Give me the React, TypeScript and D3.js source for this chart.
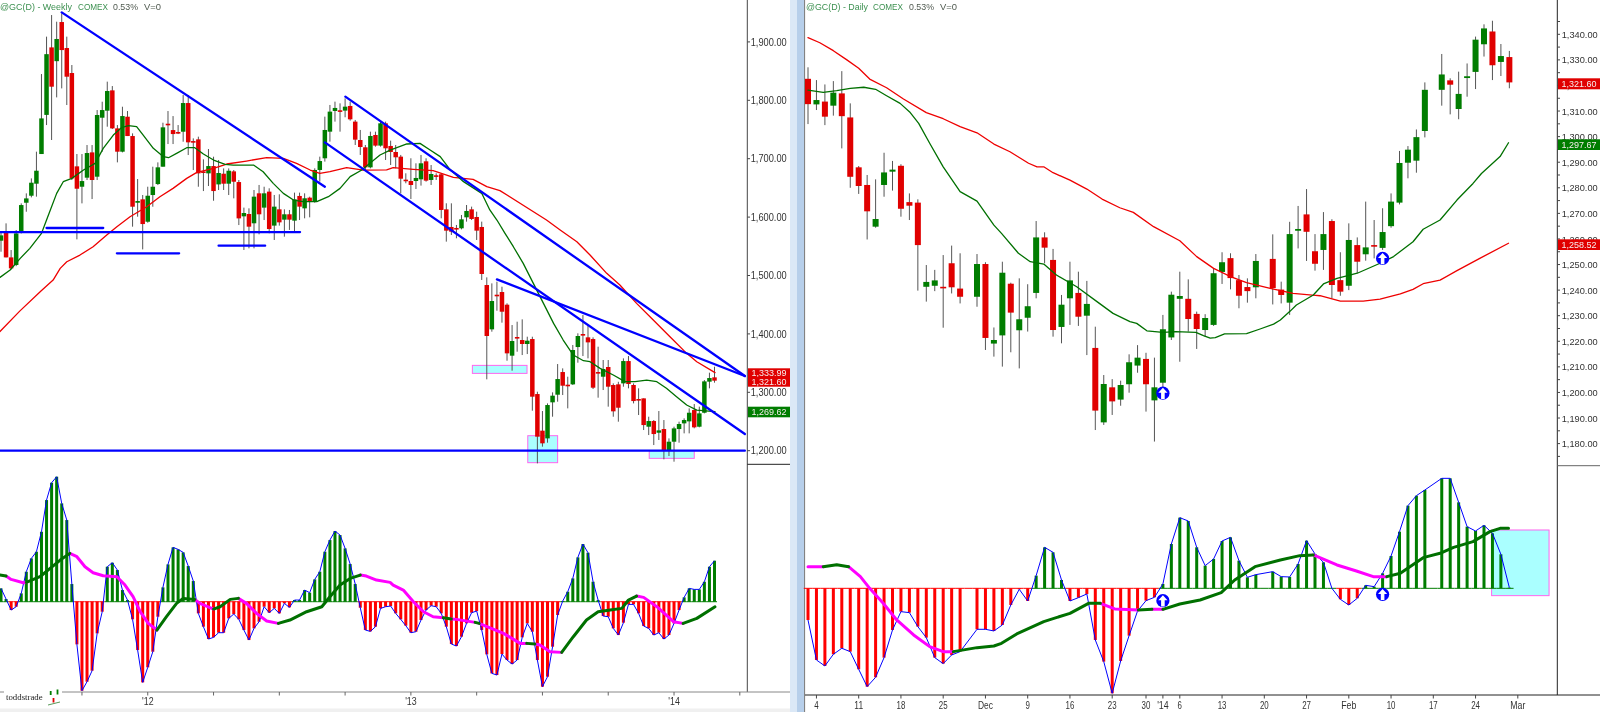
import React from "react";
import * as d3 from "d3";

type N = number | null;
type P = [number, number];

// ---------- Weekly OHLC (@GC) ----------
const weeklyOpen: N[] = [
  1559.6,1573.8,1531,1518,1575,1624.6,1636.6,1657.2,1708,1775,
  1890.6,1867,1934,1889.5,1846.7,1686.9,1652,1667.5,1710.8,1669.2,
  1770.2,1782.2,1817,1751.9,1712,1771.9,1738.8,1624.6,1630.4,1592.1,
  1637.8,1656.6,1686.3,1759.9,1749,1745.7,1746.2,1795.3,1730.2,1733.1,
  1678.3,1674.9,1687.4,1656,1674.3,1657.2,1678.3,1660,1601.3,1605.3,
  1589.4,1640.7,1616.2,1643.6,1585.4,1613.3,1595.6,1604.8,1593.9,1636.2,
  1615,1633.3,1626.5,1680.7,1700.7,1746.3,1781.7,1782.9,1782.3,1790.3,
  1763.5,1732,1719.5,1685.2,1740.6,1722.4,1760.6,1721.8,1711.5,1703.5,
  1664.1,1661.8,1661.8,1664.7,1695.5,1663.6,1671.6,1673.3,1613.3,1583.1,
  1581.4,1580.8,1599.6,1613.3,1600.2,1583.1,1483.7,1407.8,1467.1,1471.7,
  1450,1362.7,1394.7,1389.5,1382.7,1391.2,1297,1234.3,1221.1,1282.8,
  1295.9,1334.7,1313,1313.6,1377.5,1399.8,1394.1,1391.2,1334.7,1326.7,
  1343.3,1312.5,1313.6,1315.3,1353.5,1312.5,1288.5,1289.6,1241.1,1250.8,
  1230.8,1237.1,1200,1215.4,1237.1,1246.8,1250.2,1269.6,1241.1,1265,
  1318.2,1325.6,
];
const weeklyClose: N[] = [
  1568.7,1531,1512.2,1572.1,1620.6,1632,1658.9,1679.4,1769,1879,
  1823.3,1905,1886,1840.4,1666.3,1648.6,1661.7,1709.7,1663.5,1774.8,
  1783.3,1815.9,1751.9,1712,1773,1738.8,1617.8,1627.5,1588.1,1636.6,
  1652,1685.2,1753.7,1758.2,1742.2,1744,1795.3,1728,1728.5,1674.9,
  1676.6,1687.4,1644.6,1675.5,1657.2,1679.4,1660.6,1597.8,1607,1583.6,
  1635,1604.8,1640.7,1579.6,1617.9,1591,1604.8,1595.6,1630.4,1617.9,
  1632.2,1626.5,1680.7,1696,1749.2,1780.6,1786.9,1781.1,1789.1,1767.4,
  1732.6,1720,1685.2,1738.9,1722.4,1760.6,1717.8,1711.5,1702.4,1665.8,
  1662.4,1655,1667,1692.1,1662.4,1673.8,1669.8,1612.2,1576.8,1575,
  1579.7,1596.2,1610.5,1596.8,1576.8,1502.6,1396.4,1456.3,1465.4,1438,
  1366.7,1387.8,1393,1382.7,1388.4,1292.5,1224,1212.6,1278.2,1294.2,
  1322.7,1311.3,1311.3,1372.4,1396.4,1397.5,1385.5,1307.9,1333,1339.9,
  1309.6,1267.4,1273.6,1353.5,1314.2,1285,1286.8,1243.9,1250.8,1228.5,
  1234.8,1200,1215.4,1238.2,1245.7,1252.5,1265,1240,1263.9,1318.7,
  1324.4,1319.9,
];
const weeklyHigh: N[] = [
  1575,1589.3,1543.6,1577.8,1623.5,1640.6,1666.3,1712,1845,1909,
  1946,1934.6,1949,1909,1860.4,1708,1708,1723.4,1723.4,1783.3,
  1797.6,1831.9,1824.4,1757.6,1789,1781.6,1743.4,1665.2,1637.8,1652,
  1686.3,1693.7,1761.6,1781.6,1773,1757.6,1809,1809,1734.8,1737.7,
  1698.9,1716.6,1703.4,1697.7,1683.4,1683.4,1680.6,1663.5,1616.2,1615,
  1646.4,1655,1652,1649.3,1637.9,1639,1613.3,1612.2,1641.9,1641.9,
  1640.7,1635,1683.5,1703.5,1772,1792,1797.7,1794.8,1803.4,1797.7,
  1766.3,1749.2,1723.5,1746.3,1746.3,1763.5,1763.5,1730.9,1723.5,1706.4,
  1675,1700.7,1692.1,1706.4,1700.7,1689.2,1675,1675,1623.6,1623.6,
  1586.5,1603.6,1620.7,1617.9,1609.3,1592.2,1496.8,1486.5,1489.4,1480.8,
  1452.3,1415.2,1420.9,1424.9,1395.2,1395.2,1301,1267.9,1281,1299.9,
  1348.4,1341,1326.7,1381,1401,1432.3,1415.2,1394.1,1378.1,1355.3,
  1355.3,1315.3,1318,1358.1,1362.1,1315.3,1306.8,1289.6,1258.2,1252.5,
  1267.9,1252.5,1221.1,1241.1,1249.7,1255.4,1272.5,1279.9,1275.4,1321,
  1333.6,1343.8,
];
const weeklyLow: N[] = [
  1540.7,1531,1510.5,1516,1572,1609.2,1633.8,1635,1708,1757.6,
  1732,1805,1820.4,1791.9,1663.5,1561.9,1623.5,1663.5,1630.9,1663.5,
  1712,1754.8,1750.8,1693.7,1710.8,1738.8,1583.6,1600.7,1544.7,1590.4,
  1617.8,1654.9,1686.3,1725.1,1725.1,1742.2,1729.1,1706.3,1680.6,1652,
  1644.6,1653.2,1628,1646.4,1646.4,1637.8,1632.1,1586.4,1543.7,1546.5,
  1546.5,1570.5,1595,1572.2,1560.8,1585.4,1566.5,1578,1575,1595,
  1597.9,1599.6,1624.7,1660.7,1695,1729.2,1763.5,1746.3,1770.9,1765.2,
  1723.5,1706.4,1680.7,1683.5,1720.6,1720.6,1697.8,1689.2,1683.5,1640.7,
  1657.9,1631,1648.1,1653.9,1660.7,1655,1663.6,1597.9,1558,1569.4,
  1563.7,1579,1592.2,1595,1560.8,1492.3,1322.2,1403.8,1439.7,1419.2,
  1354.1,1337,1369.5,1363.8,1365.5,1268.5,1178.3,1206.9,1213.7,1258.2,
  1283.9,1295.3,1272.5,1312.5,1350.7,1362.1,1358.1,1305.6,1290.8,1303.9,
  1275.4,1258.2,1249.7,1309.6,1306.8,1281,1261.1,1235.4,1226.8,1209.7,
  1218.3,1185.2,1190.9,1181.2,1213.7,1229.7,1229.7,1238.3,1240,1263.9,
  1306.8,1316.5,
];

// ---------- Weekly moving averages [bar, price] ----------
const weeklyFastMA: P[] = [
  [-0.2,1496.8],[1.8,1509.4],[3.8,1529.3],[5.7,1546.5],[8,1572.1],[9,1595],[11,1640.6],[12.3,1660.6],[14,1666.3],
  [16.3,1680.6],[18.6,1692],[20.2,1717.7],[22.2,1740.5],[23.8,1753],[25.2,1756.5],[26.8,1754.8],[28.1,1740.5],
  [30.1,1717.7],[32.1,1703.4],[33.1,1701.7],[34.7,1709.1],[36.7,1718.8],[38.3,1718.8],[40,1708],[42,1697.7],
  [44.3,1690.3],[45.9,1689.1],[49.9,1689.1],[51.8,1677.7],[53.8,1657.8],[55.8,1640.6],[57.8,1629.2],[59.7,1626.4],
  [62.4,1626.4],[64.7,1634.9],[67,1649.2],[69,1669.2],[71.3,1680.6],[72.9,1692],[74.9,1706.3],[76.9,1714.8],
  [80.2,1725.2],[82.8,1726.3],[84.8,1714.9],[86.8,1703.5],[88.7,1681.8],[91.4,1660.7],[95,1640.7],[96.6,1612.2],
  [98,1595],[99.6,1572.2],[101.25,1549.3],[103.2,1520.8],[105.2,1486.5],[107.2,1452.3],[109.2,1418],[111.1,1389.5],
  [113.1,1363.8],[115.1,1354.1],[116.4,1352.4],[118.4,1341],[121,1329.6],[123.3,1318.2],[125.3,1318.2],[127.6,1321],
  [129.6,1318.2],[131.5,1306.8],[133.5,1292.5],[135.5,1278.2],[137.5,1269.6],[141.1,1266.8],
];
const weeklySlowMA: P[] = [
  [-0.2,1404],[3.7,1439],[7.9,1473.5],[10.3,1492.2],[11.7,1512.2],[13,1523.6],[15.6,1535],[18.2,1549.3],[20.9,1569.3],[22.9,1583.6],[25.5,1600.7],
  [28.8,1617.8],[31.4,1634.9],[34,1649.2],[36.7,1666.3],[38.7,1676.6],[42,1683.4],[44.6,1690.9],[48.5,1696],
  [52.5,1701.7],[55.8,1700.6],[58.4,1692],[61.1,1680.6],[63,1674.9],[65,1677.7],[68.3,1684.6],[71.6,1680.6],
  [76.2,1680.7],[77.5,1684.7],[81.5,1681.8],[85.4,1679.5],[89.4,1668.1],[93.3,1664.7],[96,1652.1],[98.6,1645.3],
  [107.8,1595],[110.5,1577.9],[113.8,1557.9],[116.4,1535],[119.7,1503.7],[122.3,1483.7],[125.6,1452.3],[128.9,1423.8],
  [132.2,1395.2],[135.5,1366.7],[137.5,1352.4],[141.1,1333.6],
];

// ---------- Weekly trend lines [bar, price] ----------
const weeklyTrendLines: P[][] = [
  [[12,1950.6],[64,1652]],
  [[-0.2,1574.4],[59.1,1574.4]],
  [[9,1581.3],[20.2,1581.3]],
  [[22.9,1537.9],[35.2,1537.9]],
  [[43,1551],[52.2,1551]],
  [[68.05,1806.3],[147,1327.9]],
  [[64,1728],[147,1228.5]],
  [[98,1493.4],[147,1327.9]],
  [[-0.2,1200],[147,1200]],
];
// [bar0, bar1, priceTop, priceBottom]
const weeklyBoxes: [number, number, number, number][] = [
  [93.15,103.95,1346.1,1332.4],
  [104.1,110,1225.7,1179.5],
  [128.1,137,1200,1186.9],
];

// ---------- Weekly oscillator ----------
const weeklyHist: N[] = [
  4,0.8,-2.5,-1.5,2.5,9,13,15,21,30.5,
  35.7,37.5,29.5,24.5,5.3,-12.8,-26.7,-24,-20.7,-9.5,
  -3,10.5,11.7,9.5,3.5,0.5,-5.3,-14.5,-24.2,-19.7,
  -15,-4.5,4.3,11.2,16.3,15.7,14.8,10.7,6.2,-3.5,
  -7.5,-11.2,-10.7,-9.3,-9.3,-5,-3.7,-5.3,-8.5,-11.5,
  -8,-6,-1.5,-3.3,-2,-3.5,-0.5,-1.7,0.5,0.5,
  3.5,2.7,6.7,9,15,18.5,21.2,20,16,11.3,
  5.3,-1.8,-8.5,-8.9,-7.5,-2,-1.5,-1.3,-3.5,-5.3,
  -7.2,-9.3,-9,-5.5,-2.5,-1.2,-1.5,-3.5,-7.5,-12.7,
  -13.3,-10.5,-6.5,-3.3,-2.8,-8.5,-15.8,-21.5,-22,-15.7,
  -17.5,-18.7,-17.5,-10.7,-6.5,-9,-17.5,-25.5,-22.5,-13.5,
  -4,0.2,3,7,13.3,17.3,14.7,6,0.5,-4.3,
  -4.5,-8,-10,-6.3,-0.8,-0.8,-3.5,-7.3,-8,-10,
  -9.3,-11.2,-10,-6.5,-2.5,1.3,4,3.7,3.7,6,
  10.5,12.3,
];
const weeklySignalGreen: P[][] = [
  [[-0.2,8],[1,7.7]],
  [[5,5.8],[7.7,7.5],[9.7,10],[11.7,12.5],[13.6,14.5]],
  [[30.8,-8.5],[32.7,-4.5],[34.7,-0.5],[36,1],[38.3,0.7]],
  [[42,-2.2],[43.3,-1.5],[45.3,0.7],[46.9,1]],
  [[54.8,-6.5],[57.1,-5.5],[60.4,-3],[63.4,-1.5],[65,1.5],[67,5],[69,7],[71,8]],
  [[87.4,-4.8],[89,-5.2]],
  [[93.7,-6.2],[94.5,-6.5]],
  [[103.9,-12.5],[105.5,-12.7]],
  [[110.8,-15.2],[113.1,-10.5],[115.7,-5.5],[118,-3],[120.4,-2.5],[122.7,-2],[124,0.5],[125.6,1.7]],
  [[134.8,-6.5],[137.5,-5],[141.1,-1.5]],
];
const weeklySignalMagenta: P[][] = [
  [[1,7.7],[2,6.7],[4.4,5.7],[5,5.8]],
  [[13.6,14.5],[15,13.5],[16.6,10.5],[18.2,8.7],[20.2,7.8],[22.9,7.5],[24.5,5],[26.1,1.5],[27.5,-3],[29.1,-6.5],[30.8,-8.5]],
  [[38.3,0.7],[39.3,-0.5],[42,-2.2]],
  [[46.9,1],[48.5,-0.5],[50.5,-3.5],[52.5,-5.8],[54.8,-6.5]],
  [[71,8],[72.2,7.7],[74.2,6.5],[76.9,5.8],[77.5,5],[79.5,3.5],[81.5,0],[83.5,-3],[85.4,-4.5],[87.4,-4.8]],
  [[89,-5.2],[90,-5.3],[93.7,-6.2]],
  [[94.5,-6.5],[95.3,-7],[99.3,-9.5],[102.6,-12.5],[103.9,-12.5]],
  [[105.5,-12.7],[106.5,-13],[108.5,-15],[110.8,-15.2]],
  [[125.6,1.7],[127,1.3],[129.6,-1.5],[132.9,-6],[134.8,-6.5]],
];
const weeklyYearTicks: [number, string][] = [[16,""],[29,"'12"],[42,""],[55,""],[68,""],[81,"'13"],[94,""],[107,""],[120,""],[133,"'14"],[146,""]];
const weeklyPriceTicks = [1200,1300,1400,1500,1600,1700,1800,1900];

// ---------- Daily OHLC ----------
const dailyOpen: N[] = [
  1322.6,1312.6,1313.7,1312.1,1316.9,1307.5,1288,1281.1,1264.8,1281.1,
  1286.3,1288.6,1274.4,1274.2,1241.3,1241.7,1241.3,1250.5,1240.6,null,
  1237.4,1250.2,1219.1,1222.3,1242.5,1224.3,1229.2,1238.9,1260.6,1251.8,
  1225.6,1236.8,1238.9,1230,1217.4,1188.3,1202,1197.2,1203.2,1210.5,
  1213.1,1196.9,1203.8,1221.5,1236.6,1236.6,1230.7,1224.4,1226.4,1247.1,
  1252.5,1243.9,1241.2,1241.1,null,1252.2,1240.2,1235.1,1263.2,1269.6,
  1255.2,1255.7,1267,1243.9,1241.7,1257.6,1254,1257.6,1256.5,1265,
  1274.2,1289.8,1290.6,1302.2,null,1318.3,1322,1310.8,1322.9,1325.3,
  1336.1,1341.1,1329.2,1331.1,
];
const dailyClose: N[] = [
  1312.7,1314.3,1307.8,1317.2,1308,1284.3,1280.7,1270.8,1267.8,1286,
  1287.1,1271.8,1273,1257.6,1243.2,1243.8,1240.8,1241.1,1237.4,null,
  1250.2,1221.3,1220.5,1246.8,1231.2,1228.6,1233.7,1260.6,1256.6,1224.4,
  1234.3,1243.8,1229.6,1234.6,1192.9,1203.3,1196.5,1202.9,1211.8,1213.6,
  1203.2,1202,1224.7,1238.2,1237.7,1228.7,1224.8,1229.1,1246.6,1250.9,
  1244.7,1237.8,1239.6,1251.4,null,1240.8,1238.1,1261.9,1263.9,1262.8,
  1250.3,1261.9,1242,1239.4,1259.6,1251.1,1256.7,1257,1262.7,1274.6,
  1289.7,1294.9,1299.8,1318.3,null,1324.3,1320.3,1316.7,1323.6,1337.9,
  1342.3,1327.9,1331.5,1321.2,
];
const dailyHigh: N[] = [
  1327.1,1322.1,1320.4,1321.7,1325.6,1313,1288.5,1285,1283.3,1293.7,
  1290.5,1289.2,1277.8,1275.5,1249.8,1247.9,1253.7,1257.4,1254.4,null,
  1254.1,1250.9,1225.4,1251.1,1242.9,1244.6,1242.3,1267,1262.6,1256.1,
  1238.1,1251.1,1247.2,1243.6,1225.7,1206.8,1205.2,1204.6,1214.9,1218.5,
  1215.5,1213.6,1230.3,1239.4,1247.2,1244.2,1231.6,1230.6,1248.5,1254.8,
  1254.4,1245.9,1244.6,1254.1,null,1261.8,1243.3,1266.7,1272.9,1279.5,
  1261.9,1270.5,1267.7,1254.8,1266.1,1260.6,1274.6,1267.4,1272,1277.8,
  1294.4,1296.3,1302.8,1321.2,null,1332.3,1322.8,1325.4,1328.6,1339.1,
  1343.9,1345.3,1336.2,1333.5,
];
const dailyLow: N[] = [
  1304.9,1310.4,1304.5,1308.2,1295.4,1280,1277.6,1259.8,1264.4,1276.5,
  1278.9,1268.7,1267.4,1239.8,1235.5,1239.6,1225.3,1238.7,1234.8,null,
  1233.5,1216.6,1214,1210.1,1215.7,1209.4,1223.8,1236.8,1250.5,1221.8,
  1219.2,1226.4,1226,1214.6,1185.3,1187.3,1191.2,1194.8,1199.9,1207.7,
  1192.5,1180.8,1200.3,1220.5,1212,1223.8,1217,1221.8,1226,1242.4,
  1240.3,1232.9,1235.1,1236.8,null,1234.4,1234.8,1230.3,1256.3,1251.4,
  1247.6,1247.9,1236.8,1237.8,1240,1246.6,1251.5,1252.4,1255.7,1264.4,
  1273.5,1283.7,1285.9,1299.7,null,1312.1,1308.7,1306.8,1315.6,1318.6,
  1331.3,1322.1,1323.7,1318.9,
];
const dailyFastMA: P[] = [
  [0,1318.2],[1.8,1317.3],[3.4,1318],[5,1318.9],[6.6,1319.3],[8,1318.5],[9.3,1316],[10.9,1313],[12.1,1309.4],
  [13.1,1305.2],[14.4,1297.4],[16,1288.2],[18,1278.5],[20,1274.8],[22,1265.4],[22.9,1262.2],[24.9,1254.4],
  [26.3,1251.1],[27.9,1250.2],[29.4,1245.9],[31.8,1241.3],[34.2,1235.5],[36.1,1230.9],[38.1,1227.7],[38.9,1227],
  [40.1,1224.1],[42,1223.5],[43.5,1223.8],[45.9,1223.5],[46.8,1222.2],[47.6,1221.2],[48.2,1221.4],[49.3,1222.9],
  [51.9,1223],[53.5,1224.8],[55.1,1226.7],[55.9,1228.3],[57,1231.6],[57.8,1234.2],[59.8,1238.1],[61,1242.4],
  [62.6,1244.6],[65,1246.6],[67.7,1250.5],[69.3,1253.1],[71.6,1258.9],[72.8,1263.8],[74.8,1267.4],[76.8,1275.2],
  [78.7,1281.7],[79.7,1285.6],[81.9,1292.2],[82.9,1297.6],
];
const dailySlowMA: P[] = [
  [0,1338.7],[1.4,1336.7],[3,1333.6],[4.6,1330],[6,1326.7],[7.3,1322.5],[9.3,1319.1],[11.3,1314.7],[14,1309.4],
  [16,1307],[18,1303.9],[20,1301.5],[22,1297.1],[23.9,1294.1],[26.1,1289.6],[27.1,1288.2],[27.9,1288.2],[29,1285.9],
  [31,1283],[33,1279.5],[34.8,1275.6],[36.9,1272.2],[38.5,1270.4],[40.9,1264.8],[44,1259.3],[46,1253.1],[48,1248.5],
  [50,1245.3],[51.9,1242.9],[54.7,1240.7],[57.4,1238.7],[60.6,1237.8],[63,1235.7],[65.7,1235.7],[67.7,1236.5],
  [70.1,1238.5],[71.6,1240.3],[72.8,1242.5],[74.8,1243.9],[76.8,1247.6],[79.5,1252.4],[82.9,1258.3],
];
const dailyHist: N[] = [
  -9.5,-21.5,-23.3,-19.8,-18,-19,-24.3,-29.5,-26.7,-20.8,
  -12.5,-7,-7.3,-11.5,-14.8,-20.8,-22.6,-20,-19,null,
  -12.3,-12.3,-12.8,-11,-5,-0.3,-3.8,3.8,12.3,10.8,
  2.5,-3.8,-2.8,-1.7,-15.5,-22,-31.5,-21.8,-14.2,-6.8,
  -3.7,-2.7,1.3,13.3,21.2,20.2,12.3,6.8,8.8,14.2,
  15.3,8.3,3.3,4.1,null,5,3.5,3.4,7.3,14.3,
  10.3,7.8,0,-3.3,-5,-3,0.9,0.5,4.5,9.7,
  17,24.8,27.8,29.5,null,33,33,25.8,18.5,17.2,
  18.9,16.5,10.2,0.2,
];
const dailySignalGreen: P[][] = [
  [[1.8,6.5],[3.4,7.1],[4.8,6.5]],
  [[17.2,-19],[20,-17.8],[22,-17.3],[22.9,-16.5],[24.7,-13.7],[27.9,-10],[31,-7.5],[33.2,-4.5],[34.6,-4.5]],
  [[39.1,-6.5],[40.7,-6.3]],
  [[42,-6.3],[44,-4.7],[46.4,-3.5],[48.9,-1.3],[50.5,2.5],[52.9,6.5],[55.9,8.5],[58.2,9.8],[59.8,10]],
  [[68.5,3.5],[70.1,4.5],[72.8,9.2],[74.8,10.5],[76.4,12.3],[78.7,14],[80.7,17],[81.9,18],[82.9,18]],
];
const dailySignalMagenta: P[][] = [
  [[0,6.5],[1.8,6.5]],
  [[4.8,6.5],[6.2,3.5],[7.3,0],[8.9,-4.5],[10.5,-9.5],[12.5,-14],[14.4,-17.5],[16,-19],[17.2,-19]],
  [[34.6,-4.5],[36.3,-6.2],[39.1,-6.5]],
  [[40.7,-6.3],[42,-6.3]],
  [[59.8,10],[62.6,7],[64.9,5.2],[66.9,3.5],[68.5,3.5]],
];
const dailyDateTicks: [number, string][] = [[1,"4"],[6,"11"],[11,"18"],[16,"25"],[21,"Dec"],[26,"9"],[31,"16"],[36,"23"],[40,"30"],[42,"'14"],[44,"6"],[49,"13"],[54,"20"],[59,"27"],[64,"Feb"],[69,"10"],[74,"17"],[79,"24"],[84,"Mar"]];
const dailyPriceTicks = [1180,1190,1200,1210,1220,1230,1240,1250,1260,1270,1280,1290,1300,1310,1320,1330,1340];
const dailyMinorTicks = [1175,1185,1195,1205,1215,1225,1235,1245,1255,1265,1275,1285,1295,1305,1315,1325,1335,1345];
const dailyArrowsPrice: P[] = [[42,1199.7],[68,1252.4]];
const dailyArrowsOsc: P[] = [[42,-3.7],[68,-1.8]];

// ---------- Scales ----------
const wx = d3.scaleLinear().domain([0, 141]).range([1, 714.5]);
const wy = d3.scaleLinear().domain([1200, 1900]).range([450.7, 41.9]);
const wo = d3.scaleLinear().domain([-30, 40]).range([701.7, 468.4]);
const dx = d3.scaleLinear().domain([0, 83]).range([808, 1509.35]);
const dy = d3.scaleLinear().domain([1180, 1340]).range([443.6, 34.3]);
const dOsc = d3.scaleLinear().domain([-30, 40]).range([688.3, 455]);
const fmt = d3.format(",.2f");

const RED = "#e00000";
const GREEN = "#007d00";
const BLUE = "#0000ff";
const FONT = "'Liberation Sans', Arial, sans-serif";

// Narrow screenshot-style text: real text fitted to a measured width.
function Fit({ x, y, w, fill, anchor, size, children }: any) {
  return (
    <text x={x} y={y} fontSize={size ?? 10.2} fill={fill ?? "#333"} fontFamily={FONT} textAnchor={anchor}
      textLength={w} lengthAdjust="spacingAndGlyphs">{children}</text>
  );
}
const dateWidth = (t: string) => (t.startsWith("'") ? 11.5 : /^\d+$/.test(t) ? 4.4 * t.length : 15);

function Candles({ o, h, l, c, x, y, w }: any) {
  return (
    <g>
      {o.map((ov: N, i: number) => {
        if (ov == null) return null;
        const up = c[i] >= ov;
        const top = y(Math.max(ov, c[i]));
        const bot = y(Math.min(ov, c[i]));
        const px = x(i);
        return (
          <g key={i}>
            <line x1={px} x2={px} y1={y(h[i])} y2={y(l[i])} stroke="#555" strokeWidth={1} />
            <rect x={px - w / 2} width={w} y={top} height={Math.max(bot - top, 1.6)} fill={up ? GREEN : RED} />
          </g>
        );
      })}
    </g>
  );
}

function Path({ pts, x, y, stroke, width }: any) {
  const gen = d3.line<P>().x((d) => x(d[0])).y((d) => y(d[1]));
  return <path d={gen(pts) ?? ""} fill="none" stroke={stroke} strokeWidth={width} strokeLinejoin="round" strokeLinecap="round" />;
}

function Osc({ v, x, y }: any) {
  const zero = y(0);
  const line = d3.line<[number, number]>().x((d) => x(d[0])).y((d) => y(d[1]));
  const pts = v.map((n: N, i: number) => [i, n]).filter((d: any) => d[1] != null);
  let last = -1;
  return (
    <g>
      {v.map((n: N, i: number) => {
        if (n != null && n !== 0) last = n;
        const col = last > 0 ? GREEN : "#ff0000";
        return <line key={"b" + i} x1={x(i - 0.5)} x2={x(i + 0.5)} y1={zero} y2={zero} stroke={col} strokeWidth={1} />;
      })}
      {v.map((n: N, i: number) =>
        n == null || n === 0 ? null : (
          <rect key={i} x={x(i) - 1.5} width={3} y={Math.min(y(n), zero)} height={Math.abs(y(n) - zero)} fill={n > 0 ? GREEN : "#ff0000"} />
        )
      )}
      <path d={line(pts) ?? ""} fill="none" stroke={BLUE} strokeWidth={1} />
    </g>
  );
}

function Box({ x0, x1, y0, y1 }: any) {
  return <rect x={x0} y={y0} width={x1 - x0} height={y1 - y0} fill="#aaffff" stroke="#ff66ee" strokeWidth={1} />;
}

function Arrow({ cx, cy }: any) {
  return (
    <g transform={`translate(${cx},${cy})`}>
      <circle r={6.6} fill={BLUE} />
      <path d="M0,-5.4 L4.6,-0.4 L1.8,-0.4 L1.8,5.8 L-1.8,5.8 L-1.8,-0.4 L-4.6,-0.4 Z" fill="#fff" />
    </g>
  );
}

function Tag({ x, y, w, h, fill, text }: any) {
  return (
    <g>
      <rect x={x} y={y} width={w} height={h} fill={fill} />
      <Fit x={x + 3.5} y={y + h / 2 + 3.4} w={35} size={9.6} fill="#f6ecec">{text}</Fit>
    </g>
  );
}

function Header({ x, title, titleW, pos }: any) {
  const green = "#3c9050";
  const grey = "#505a50";
  return (
    <g>
      <Fit x={x} y={10.4} w={titleW} fill={green} size={9.5}>{title}</Fit>
      <Fit x={x + pos[0]} y={10.4} w={30} fill={green} size={9.5}>COMEX</Fit>
      <Fit x={x + pos[1]} y={10.4} w={25} fill={grey} size={9.5}>0.53%</Fit>
      <Fit x={x + pos[2]} y={10.4} w={17} fill={grey} size={9.5}>V=0</Fit>
    </g>
  );
}

export default function App() {
  return (
    <svg width={1600} height={712} viewBox="0 0 1600 712" style={{ position: "absolute", left: 0, top: 0, display: "block", background: "#fff" }}>
      <defs>
        <filter id="soft" x="0" y="0" width="1600" height="712" filterUnits="userSpaceOnUse">
          <feGaussianBlur stdDeviation="0.3" />
        </filter>
        <clipPath id="wClip"><rect x={0} y={0} width={747} height={464} /></clipPath>
        <clipPath id="dClip"><rect x={805} y={0} width={752} height={465} /></clipPath>
      </defs>
      <rect x={0} y={0} width={1600} height={712} fill="#fff" />
      <g filter="url(#soft)">
        {/* ---------- Weekly panel ---------- */}
        <Header x={0} title="@GC(D) - Weekly" titleW={72} pos={[78, 113, 144]} />
        <g clipPath="url(#wClip)">
          {weeklyBoxes.map((b, i) => (
            <Box key={i} x0={wx(b[0])} x1={wx(b[1])} y0={wy(b[2])} y1={wy(b[3])} />
          ))}
          <Candles o={weeklyOpen} h={weeklyHigh} l={weeklyLow} c={weeklyClose} x={wx} y={wy} w={4.5} />
          <Path pts={weeklySlowMA} x={wx} y={wy} stroke="#ee0000" width={1.3} />
          <Path pts={weeklyFastMA} x={wx} y={wy} stroke="#007000" width={1.3} />
          {weeklyTrendLines.map((t, i) => (
            <Path key={i} pts={t} x={wx} y={wy} stroke={BLUE} width={2.3} />
          ))}
        </g>
        <Osc v={weeklyHist} x={wx} y={wo} />
        {weeklySignalMagenta.map((s, i) => <Path key={i} pts={s} x={wx} y={wo} stroke="#ff00ff" width={3} />)}
        {weeklySignalGreen.map((s, i) => <Path key={i} pts={s} x={wx} y={wo} stroke="#007000" width={3} />)}

        <line x1={747.3} x2={747.3} y1={0} y2={692} stroke="#444" strokeWidth={1} />
        <line x1={747.3} x2={790} y1={464.3} y2={464.3} stroke="#222" strokeWidth={1} />
        <line x1={0} x2={790} y1={692} y2={692} stroke="#888" strokeWidth={1} />
        {weeklyPriceTicks.map((p) => (
          <g key={p}>
            <line x1={747.3} x2={750} y1={wy(p)} y2={wy(p)} stroke="#444" />
            <Fit x={750.7} y={wy(p) + 3.6} w={36}>{fmt(p)}</Fit>
          </g>
        ))}
        <Tag x={748} y={368.3} w={42} h={9} fill={RED} text="1,333.99" />
        <Tag x={748} y={377} w={42} h={9.7} fill={RED} text="1,321.60" />
        <Tag x={748} y={406.7} w={42} h={10.6} fill={GREEN} text="1,269.62" />
        {weeklyYearTicks.map(([b, t]) => (
          <g key={b}>
            <line x1={wx(b)} x2={wx(b)} y1={692} y2={695.5} stroke="#666" />
            {t && <Fit x={wx(b) - 5.7} y={705} w={dateWidth(t)}>{t}</Fit>}
          </g>
        ))}
        <rect x={4} y={689} width={58} height={14} fill="#fff" />
        <text x={6} y={699.5} fontFamily="'Liberation Serif', serif" fontSize={8.8} fill="#222">toddstrade</text>
        <line x1={48} x2={60} y1={705} y2={702} stroke="#5a9a5a" />
        <rect x={49.8} y={691} width={1.8} height={4} fill={GREEN} />
        <rect x={56.6} y={689.5} width={1.8} height={5} fill={GREEN} />
        <rect x={52.6} y={698} width={1.8} height={4.5} fill={RED} />

        {/* ---------- Separator ---------- */}
        <rect x={790} y={0} width={7} height={712} fill="#dbe8f6" />
        <rect x={797} y={0} width={7.2} height={712} fill="#b7cfea" />
        <line x1={804.6} x2={804.6} y1={0} y2={712} stroke="#777" strokeWidth={1} />

        {/* ---------- Daily panel ---------- */}
        <Header x={806} title="@GC(D) - Daily" titleW={62} pos={[67, 103, 134]} />
        <g clipPath="url(#dClip)">
          <Candles o={dailyOpen} h={dailyHigh} l={dailyLow} c={dailyClose} x={dx} y={dy} w={6} />
          <Path pts={dailySlowMA} x={dx} y={dy} stroke="#ee0000" width={1.3} />
          <Path pts={dailyFastMA} x={dx} y={dy} stroke="#007000" width={1.3} />
          {dailyArrowsPrice.map((a, i) => <Arrow key={i} cx={dx(a[0])} cy={dy(a[1])} />)}
        </g>
        <Box x0={dx(80.9)} x1={dx(87.7)} y0={dOsc(17.5)} y1={dOsc(-2.2)} />
        <Osc v={dailyHist} x={dx} y={dOsc} />
        {dailySignalMagenta.map((s, i) => <Path key={i} pts={s} x={dx} y={dOsc} stroke="#ff00ff" width={3} />)}
        {dailySignalGreen.map((s, i) => <Path key={i} pts={s} x={dx} y={dOsc} stroke="#007000" width={3} />)}
        {dailyArrowsOsc.map((a, i) => <Arrow key={i} cx={dx(a[0])} cy={dOsc(a[1])} />)}

        <line x1={1557.3} x2={1557.3} y1={0} y2={695} stroke="#222" strokeWidth={1} />
        <line x1={1557.3} x2={1600} y1={465.7} y2={465.7} stroke="#666" strokeWidth={1} />
        <line x1={805} x2={1600} y1={695} y2={695} stroke="#222" strokeWidth={1} />
        {dailyMinorTicks.map((p) => (
          <line key={p} x1={1557.3} x2={1560} y1={dy(p)} y2={dy(p)} stroke="#444" />
        ))}
        {dailyPriceTicks.map((p) => (
          <g key={p}>
            <line x1={1557.3} x2={1560} y1={dy(p)} y2={dy(p)} stroke="#444" />
            <Fit x={1561.7} y={dy(p) + 3.6} w={36} size={9.6}>{fmt(p)}</Fit>
          </g>
        ))}
        <Tag x={1558} y={78.3} w={42} h={11} fill={RED} text="1,321.60" />
        <Tag x={1558} y={139.3} w={42} h={10.7} fill={GREEN} text="1,297.67" />
        <Tag x={1558} y={239.3} w={42} h={10.7} fill={RED} text="1,258.52" />
        {dailyDateTicks.map(([b, t]) => (
          <g key={b}>
            <line x1={dx(b)} x2={dx(b)} y1={695} y2={698.5} stroke="#444" />
            <Fit x={dx(b) - dateWidth(t) / 2} y={709.4} w={dateWidth(t)}>{t}</Fit>
          </g>
        ))}
      </g>
      <rect x={0} y={708.5} width={790} height={3.5} fill="#f0f0f0" />
    </svg>
  );
}
